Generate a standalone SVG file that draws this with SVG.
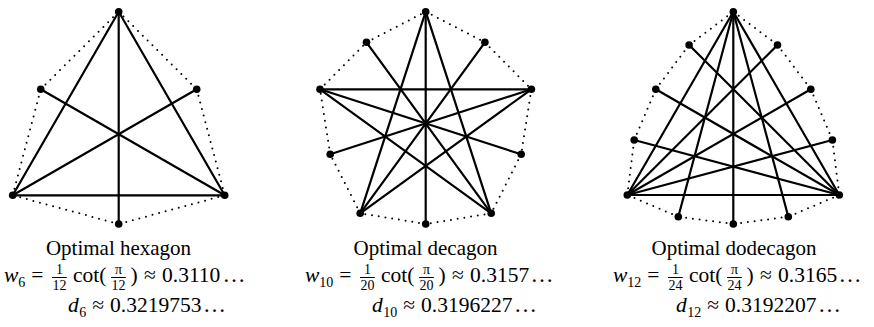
<svg xmlns="http://www.w3.org/2000/svg" width="874" height="327" viewBox="0 0 874 327">
<style>
.e{stroke:#000;stroke-width:2.2;stroke-linecap:round;fill:none}
.d{stroke:#000;stroke-width:2;stroke-dasharray:0 6.8;stroke-linecap:round;fill:none}
.v{fill:#000}
text{font-family:"Liberation Serif","Times New Roman",serif;fill:#000}
.t{font-size:21px;text-anchor:middle}
.m{font-size:21.5px}
.i{font-style:italic}
.s{font-size:14px}
.f{font-size:14px;text-anchor:middle}
.el{font-size:23px}
.bar{stroke:#000;stroke-width:1}
</style>
<rect width="874" height="327" fill="#fff"/>
<g id="connectors">
<line class="d" x1="118.7" y1="11.7" x2="196.7" y2="89.3"/>
<line class="d" x1="196.7" y1="89.3" x2="224.7" y2="195.3"/>
<line class="d" x1="224.7" y1="195.3" x2="118.7" y2="224"/>
<line class="d" x1="118.7" y1="224" x2="12.7" y2="195.3"/>
<line class="d" x1="12.7" y1="195.3" x2="40.7" y2="89.3"/>
<line class="d" x1="40.7" y1="89.3" x2="118.7" y2="11.7"/>
<line class="e" x1="118.7" y1="11.7" x2="12.7" y2="195.3"/>
<line class="e" x1="118.7" y1="11.7" x2="224.7" y2="195.3"/>
<line class="e" x1="12.7" y1="195.3" x2="224.7" y2="195.3"/>
<line class="e" x1="118.7" y1="11.7" x2="118.7" y2="224"/>
<line class="e" x1="40.7" y1="89.3" x2="224.7" y2="195.3"/>
<line class="e" x1="196.7" y1="89.3" x2="12.7" y2="195.3"/>
<line class="d" x1="425.7" y1="11.7" x2="484.9" y2="42.3"/>
<line class="d" x1="484.9" y1="42.3" x2="531.4" y2="89.3"/>
<line class="d" x1="531.4" y1="89.3" x2="521.2" y2="154.3"/>
<line class="d" x1="521.2" y1="154.3" x2="491.2" y2="213.3"/>
<line class="d" x1="491.2" y1="213.3" x2="425.7" y2="224"/>
<line class="d" x1="425.7" y1="224" x2="360.2" y2="213.3"/>
<line class="d" x1="360.2" y1="213.3" x2="330.2" y2="154.3"/>
<line class="d" x1="330.2" y1="154.3" x2="320" y2="89.3"/>
<line class="d" x1="320" y1="89.3" x2="366.5" y2="42.3"/>
<line class="d" x1="366.5" y1="42.3" x2="425.7" y2="11.7"/>
<line class="e" x1="425.7" y1="11.7" x2="360.2" y2="213.3"/>
<line class="e" x1="425.7" y1="11.7" x2="491.2" y2="213.3"/>
<line class="e" x1="425.7" y1="11.7" x2="425.7" y2="224"/>
<line class="e" x1="320" y1="89.3" x2="531.4" y2="89.3"/>
<line class="e" x1="320" y1="89.3" x2="521.2" y2="154.3"/>
<line class="e" x1="320" y1="89.3" x2="491.2" y2="213.3"/>
<line class="e" x1="531.4" y1="89.3" x2="330.2" y2="154.3"/>
<line class="e" x1="531.4" y1="89.3" x2="360.2" y2="213.3"/>
<line class="e" x1="366.5" y1="42.3" x2="491.2" y2="213.3"/>
<line class="e" x1="484.9" y1="42.3" x2="360.2" y2="213.3"/>
<line class="d" x1="733.3" y1="11.7" x2="777.5" y2="45"/>
<line class="d" x1="777.5" y1="45" x2="810.8" y2="89.3"/>
<line class="d" x1="810.8" y1="89.3" x2="832.4" y2="140"/>
<line class="d" x1="832.4" y1="140" x2="839.3" y2="195"/>
<line class="d" x1="839.3" y1="195" x2="788.3" y2="216.7"/>
<line class="d" x1="788.3" y1="216.7" x2="733.3" y2="224"/>
<line class="d" x1="733.3" y1="224" x2="678.3" y2="216.7"/>
<line class="d" x1="678.3" y1="216.7" x2="627.3" y2="195"/>
<line class="d" x1="627.3" y1="195" x2="634.2" y2="140"/>
<line class="d" x1="634.2" y1="140" x2="655.8" y2="89.3"/>
<line class="d" x1="655.8" y1="89.3" x2="689.1" y2="45"/>
<line class="d" x1="689.1" y1="45" x2="733.3" y2="11.7"/>
<line class="e" x1="733.3" y1="11.7" x2="627.3" y2="195"/>
<line class="e" x1="733.3" y1="11.7" x2="839.3" y2="195"/>
<line class="e" x1="733.3" y1="11.7" x2="733.3" y2="224"/>
<line class="e" x1="733.3" y1="11.7" x2="678.3" y2="216.7"/>
<line class="e" x1="733.3" y1="11.7" x2="788.3" y2="216.7"/>
<line class="e" x1="627.3" y1="195" x2="839.3" y2="195"/>
<line class="e" x1="689.1" y1="45" x2="839.3" y2="195"/>
<line class="e" x1="777.5" y1="45" x2="627.3" y2="195"/>
<line class="e" x1="655.8" y1="89.3" x2="839.3" y2="195"/>
<line class="e" x1="810.8" y1="89.3" x2="627.3" y2="195"/>
<line class="e" x1="634.2" y1="140" x2="839.3" y2="195"/>
<line class="e" x1="832.4" y1="140" x2="627.3" y2="195"/>
</g>
<g id="hexagon-nodes">
<g id="h1"><circle class="v" cx="118.7" cy="11.7" r="3.8"/></g>
<g id="h2"><circle class="v" cx="196.7" cy="89.3" r="3.8"/></g>
<g id="h3"><circle class="v" cx="224.7" cy="195.3" r="3.8"/></g>
<g id="h4"><circle class="v" cx="118.7" cy="224" r="3.8"/></g>
<g id="h5"><circle class="v" cx="12.7" cy="195.3" r="3.8"/></g>
<g id="h6"><circle class="v" cx="40.7" cy="89.3" r="3.8"/></g>
</g>
<g id="decagon-nodes">
<g id="d1"><circle class="v" cx="425.7" cy="11.7" r="3.8"/></g>
<g id="d2"><circle class="v" cx="484.9" cy="42.3" r="3.8"/></g>
<g id="d3"><circle class="v" cx="531.4" cy="89.3" r="3.8"/></g>
<g id="d4"><circle class="v" cx="521.2" cy="154.3" r="3.8"/></g>
<g id="d5"><circle class="v" cx="491.2" cy="213.3" r="3.8"/></g>
<g id="d6"><circle class="v" cx="425.7" cy="224" r="3.8"/></g>
<g id="d7"><circle class="v" cx="360.2" cy="213.3" r="3.8"/></g>
<g id="d8"><circle class="v" cx="330.2" cy="154.3" r="3.8"/></g>
<g id="d9"><circle class="v" cx="320" cy="89.3" r="3.8"/></g>
<g id="d10"><circle class="v" cx="366.5" cy="42.3" r="3.8"/></g>
</g>
<g id="dodecagon-nodes">
<g id="o1"><circle class="v" cx="733.3" cy="11.7" r="3.8"/></g>
<g id="o2"><circle class="v" cx="777.5" cy="45" r="3.8"/></g>
<g id="o3"><circle class="v" cx="810.8" cy="89.3" r="3.8"/></g>
<g id="o4"><circle class="v" cx="832.4" cy="140" r="3.8"/></g>
<g id="o5"><circle class="v" cx="839.3" cy="195" r="3.8"/></g>
<g id="o6"><circle class="v" cx="788.3" cy="216.7" r="3.8"/></g>
<g id="o7"><circle class="v" cx="733.3" cy="224" r="3.8"/></g>
<g id="o8"><circle class="v" cx="678.3" cy="216.7" r="3.8"/></g>
<g id="o9"><circle class="v" cx="627.3" cy="195" r="3.8"/></g>
<g id="o10"><circle class="v" cx="634.2" cy="140" r="3.8"/></g>
<g id="o11"><circle class="v" cx="655.8" cy="89.3" r="3.8"/></g>
<g id="o12"><circle class="v" cx="689.1" cy="45" r="3.8"/></g>
</g>
<g id="hexagon-caption">
<text class="t" x="118.5" y="255">Optimal hexagon</text>
<text class="m i" x="4" y="282">w</text>
<text class="s" x="18.3" y="286.5">6</text>
<text class="m" x="31.3" y="282">=</text>
<text class="f" x="59.4" y="274">1</text>
<line class="bar" x1="52" y1="277.5" x2="66.8" y2="277.5"/>
<text class="f" x="59.4" y="290">12</text>
<text class="m" x="73" y="282">cot(</text>
<text class="f" x="118.5" y="274">π</text>
<line class="bar" x1="111.1" y1="277.5" x2="125.9" y2="277.5"/>
<text class="f" x="118.5" y="290">12</text>
<text class="m" x="130.5" y="282">)</text>
<text class="m" x="144" y="282">≈</text>
<text class="m" x="162" y="282">0.3110</text>
<text class="el" x="222.5" y="282">…</text>
<text class="m i" x="68" y="312">d</text>
<text class="s" x="79.3" y="316.5">6</text>
<text class="m" x="92.3" y="312">≈</text>
<text class="m" x="110.1" y="312">0.3219753</text>
<text class="el" x="203" y="312">…</text>
</g>
<g id="decagon-caption">
<text class="t" x="425.5" y="255">Optimal decagon</text>
<text class="m i" x="305" y="282">w</text>
<text class="s" x="319.3" y="286.5">10</text>
<text class="m" x="339.3" y="282">=</text>
<text class="f" x="367.4" y="274">1</text>
<line class="bar" x1="360" y1="277.5" x2="374.8" y2="277.5"/>
<text class="f" x="367.4" y="290">20</text>
<text class="m" x="381" y="282">cot(</text>
<text class="f" x="426.5" y="274">π</text>
<line class="bar" x1="419.1" y1="277.5" x2="433.9" y2="277.5"/>
<text class="f" x="426.5" y="290">20</text>
<text class="m" x="438.5" y="282">)</text>
<text class="m" x="452" y="282">≈</text>
<text class="m" x="470" y="282">0.3157</text>
<text class="el" x="530.5" y="282">…</text>
<text class="m i" x="372" y="312">d</text>
<text class="s" x="383.3" y="316.5">10</text>
<text class="m" x="403.3" y="312">≈</text>
<text class="m" x="421.1" y="312">0.3196227</text>
<text class="el" x="514" y="312">…</text>
</g>
<g id="dodecagon-caption">
<text class="t" x="734" y="255">Optimal dodecagon</text>
<text class="m i" x="613" y="282">w</text>
<text class="s" x="627.3" y="286.5">12</text>
<text class="m" x="647.3" y="282">=</text>
<text class="f" x="675.4" y="274">1</text>
<line class="bar" x1="668" y1="277.5" x2="682.8" y2="277.5"/>
<text class="f" x="675.4" y="290">24</text>
<text class="m" x="689" y="282">cot(</text>
<text class="f" x="734.5" y="274">π</text>
<line class="bar" x1="727.1" y1="277.5" x2="741.9" y2="277.5"/>
<text class="f" x="734.5" y="290">24</text>
<text class="m" x="746.5" y="282">)</text>
<text class="m" x="760" y="282">≈</text>
<text class="m" x="778" y="282">0.3165</text>
<text class="el" x="838.5" y="282">…</text>
<text class="m i" x="676" y="312">d</text>
<text class="s" x="687.3" y="316.5">12</text>
<text class="m" x="707.3" y="312">≈</text>
<text class="m" x="725.1" y="312">0.3192207</text>
<text class="el" x="818" y="312">…</text>
</g>
</svg>
